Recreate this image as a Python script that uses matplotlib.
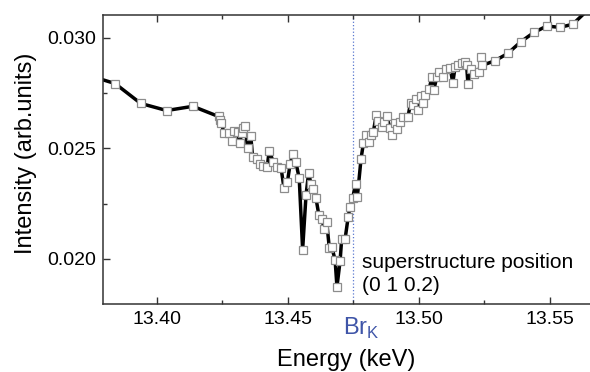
import matplotlib
matplotlib.use("Agg")
import matplotlib.pyplot as plt
import matplotlib.transforms as mtransforms
from matplotlib.ticker import MultipleLocator

plt.rcParams['font.family'] = ['Liberation Sans', 'DejaVu Sans']
plt.rcParams['mathtext.fontset'] = 'custom'
plt.rcParams['mathtext.rm'] = 'Liberation Sans'

# ---------- data ----------
energy = [13.3745, 13.3841, 13.3939, 13.4038, 13.4138, 13.4236, 13.4242, 13.4247,
          13.4257, 13.4277, 13.4287, 13.4296, 13.4309, 13.4317, 13.4324, 13.4331,
          13.4338, 13.4347, 13.4359, 13.4366, 13.4381, 13.4394, 13.4407, 13.4422,
          13.4429, 13.4445, 13.4458, 13.4475, 13.4486, 13.4499, 13.4509, 13.4519,
          13.4531, 13.4544, 13.4557, 13.4570, 13.4580, 13.4589, 13.4598, 13.4608,
          13.4619, 13.4630, 13.4640, 13.4649, 13.4659, 13.4668, 13.4681, 13.4688,
          13.4700, 13.4706, 13.4719, 13.4731, 13.4738, 13.4748, 13.4759, 13.4766,
          13.4780, 13.4789, 13.4798, 13.4810, 13.4818, 13.4827, 13.4838, 13.4846,
          13.4859, 13.4869, 13.4878, 13.4890, 13.4899, 13.4910, 13.4918, 13.4930,
          13.4940, 13.4959, 13.4969, 13.4979, 13.4988, 13.4998, 13.5008, 13.5018,
          13.5026, 13.5040, 13.5050, 13.5058, 13.5069, 13.5079, 13.5093, 13.5105,
          13.5121, 13.5130, 13.5139, 13.5151, 13.5164, 13.5176, 13.5183, 13.5188,
          13.5198, 13.5210, 13.5230, 13.5238, 13.5242, 13.5291, 13.5340, 13.5390,
          13.5440, 13.5489, 13.5539, 13.5588, 13.5661]
intensity = [0.02828, 0.02793, 0.02703, 0.02671, 0.02690, 0.02644, 0.02626, 0.02614,
             0.02568, 0.02569, 0.02535, 0.02577, 0.02574, 0.02523, 0.02568, 0.02590,
             0.02599, 0.02500, 0.02556, 0.02461, 0.02452, 0.02428, 0.02420, 0.02414,
             0.02489, 0.02439, 0.02414, 0.02409, 0.02319, 0.02349, 0.02427, 0.02474,
             0.02439, 0.02364, 0.02042, 0.02289, 0.02390, 0.02337, 0.02316, 0.02274,
             0.02198, 0.02180, 0.02134, 0.02165, 0.02048, 0.02055, 0.01995, 0.01874,
             0.01990, 0.02089, 0.02089, 0.02191, 0.02236, 0.02275, 0.02339, 0.02282,
             0.02453, 0.02523, 0.02561, 0.02527, 0.02560, 0.02574, 0.02651, 0.02623,
             0.02596, 0.02620, 0.02646, 0.02593, 0.02561, 0.02613, 0.02586, 0.02619,
             0.02643, 0.02641, 0.02706, 0.02696, 0.02725, 0.02673, 0.02736, 0.02706,
             0.02743, 0.02767, 0.02821, 0.02766, 0.02821, 0.02846, 0.02821, 0.02860,
             0.02864, 0.02794, 0.02868, 0.02878, 0.02886, 0.02891, 0.02877, 0.02791,
             0.02861, 0.02837, 0.02843, 0.02914, 0.02875, 0.02896, 0.02929, 0.02982,
             0.03024, 0.03053, 0.03047, 0.03061, 0.03143]

edge_energy = 13.475
edge_label = r'Br$_\mathregular{K}$'
note = "superstructure position\n(0 1 0.2)"

# ---------- plot ----------
fig = plt.figure(figsize=(5.9, 3.72), dpi=100)
ax = fig.add_axes([0.1746, 0.1828, 0.8254, 0.7769])

ax.plot(energy, intensity, color='black', lw=2.5, zorder=2)
ax.plot(energy, intensity, ls='none', marker='s', ms=5.2, mfc='white',
        mec='#8c8c8c', mew=0.9, zorder=3)

ax.axvline(edge_energy, color='#5a78d0', lw=0.9, ls=':', zorder=1)

ax.set_xlim(13.3795, 13.5654)
ax.set_ylim(0.01796, 0.03103)

ax.xaxis.set_major_locator(MultipleLocator(0.05))
ax.xaxis.set_minor_locator(MultipleLocator(0.025))
ax.yaxis.set_major_locator(MultipleLocator(0.005))
ax.yaxis.set_minor_locator(MultipleLocator(0.0025))
ax.xaxis.set_major_formatter(plt.FormatStrFormatter('%.2f'))
ax.yaxis.set_major_formatter(plt.FormatStrFormatter('%.3f'))

ax.tick_params(which='both', direction='in', top=True, right=False, labelsize=14,
               width=1, color='#333333')
ax.tick_params(which='major', length=5, pad=5)
ax.tick_params(which='minor', length=3)
ax.spines['right'].set_visible(False)
for s in ['left', 'top', 'bottom']:
    ax.spines[s].set_color('#333333')
    ax.spines[s].set_linewidth(1.1)

ax.set_xlabel('Energy (keV)', fontsize=17, labelpad=15)
ax.set_ylabel('Intensity (arb.units)', fontsize=17)
ax.yaxis.set_label_coords(-0.136, 0.52)

trans = mtransforms.blended_transform_factory(ax.transData, ax.transAxes)
ax.text(13.4780, -0.085, edge_label, transform=trans, color='#3f55a8',
        fontsize=17, ha='center', va='center')
ax.text(13.4784, 0.01932, note, fontsize=15, ha='left', va='center',
        linespacing=1.25)

fig.savefig('out.png', dpi=100)
